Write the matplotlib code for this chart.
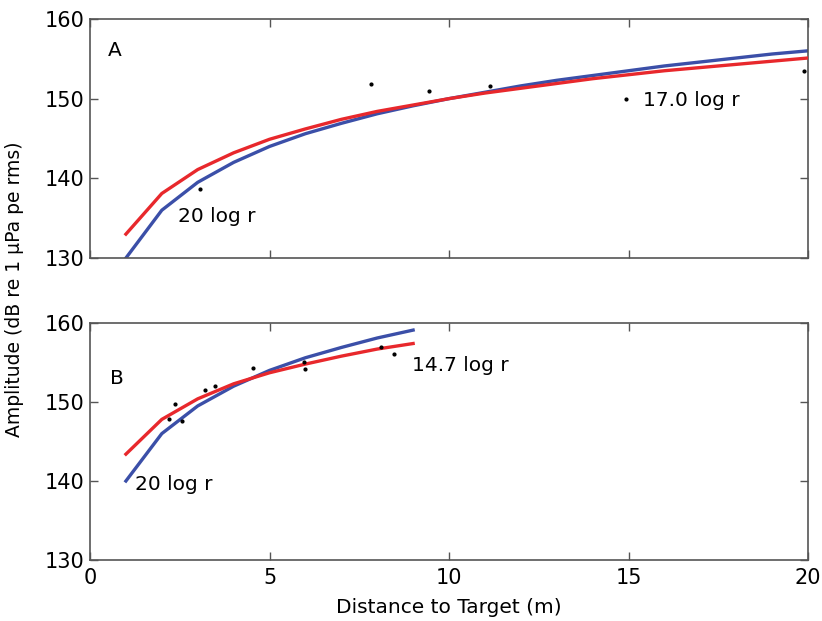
import matplotlib
matplotlib.use("Agg")
import matplotlib.pyplot as plt

# ---- data ----
r_a = list(range(1, 21))
blue_a = [130.0, 136.0, 139.5, 142.0, 144.0, 145.6, 146.9, 148.1, 149.1, 150.0,
          150.8, 151.6, 152.3, 152.9, 153.5, 154.1, 154.6, 155.1, 155.6, 156.0]
red_a = [133.0, 138.1, 141.1, 143.2, 144.9, 146.2, 147.4, 148.4, 149.2, 150.0,
         150.7, 151.3, 151.9, 152.5, 153.0, 153.5, 153.9, 154.3, 154.7, 155.1]
pts_a_x = [3.06, 7.82, 9.45, 11.15, 14.94, 19.9]
pts_a_y = [138.6, 151.8, 151.0, 151.6, 150.0, 153.5]

r_b = list(range(1, 10))
blue_b = [140.0, 146.0, 149.5, 152.0, 154.0, 155.6, 156.9, 158.1, 159.1]
red_b = [143.4, 147.8, 150.4, 152.3, 153.7, 154.8, 155.8, 156.7, 157.4]
pts_b_x = [2.19, 2.36, 2.55, 3.19, 3.49, 4.55, 5.95, 6.0, 8.1, 8.48]
pts_b_y = [147.85, 149.8, 147.6, 151.5, 152.0, 154.3, 155.1, 154.2, 157.0, 156.1]

xticks = [0, 5, 10, 15, 20]
yticks = [130, 140, 150, 160]

BLUE = "#3b4fa8"
RED = "#e8282c"
SPINE = "#555555"

fig = plt.figure(figsize=(8.22, 6.21), dpi=100)
ax_a = fig.add_axes([0.1095, 0.5845, 0.8735, 0.385])
ax_b = fig.add_axes([0.1095, 0.0982, 0.8735, 0.3817])

def style(ax, show_x):
    ax.set_xlim(0, 20)
    ax.set_ylim(130, 160)
    ax.set_xticks(xticks)
    ax.set_yticks(yticks)
    ax.tick_params(direction="in", length=6, width=1, top=True, right=True,
                   labelsize=15, color=SPINE, pad=4)
    ax.tick_params(axis="x", pad=6)
    if not show_x:
        ax.set_xticklabels([])
    for s in ax.spines.values():
        s.set_color(SPINE)
        s.set_linewidth(1.2)

# Panel A
ax_a.plot(r_a, red_a, color=RED, lw=2.4, zorder=3)
ax_a.plot(r_a, blue_a, color=BLUE, lw=2.4, zorder=2)
ax_a.plot(pts_a_x, pts_a_y, ls="none", marker="o", ms=2, color="black", zorder=4)
ax_a.text(0.5, 156.0, "A", fontsize=14.5, va="center", ha="left")
ax_a.text(2.45, 135.2, "20 log r", fontsize=14.5, va="center", ha="left")
ax_a.text(15.4, 149.8, "17.0 log r", fontsize=14.5, va="center", ha="left")
style(ax_a, False)

# Panel B
ax_b.plot(r_b, red_b, color=RED, lw=2.4, zorder=3)
ax_b.plot(r_b, blue_b, color=BLUE, lw=2.4, zorder=2)
ax_b.plot(pts_b_x, pts_b_y, ls="none", marker="o", ms=2, color="black", zorder=4)
ax_b.text(0.55, 153.0, "B", fontsize=14.5, va="center", ha="left")
ax_b.text(1.25, 139.6, "20 log r", fontsize=14.5, va="center", ha="left")
ax_b.text(8.97, 154.6, "14.7 log r", fontsize=14.5, va="center", ha="left")
style(ax_b, True)
ax_b.set_xlabel("Distance to Target (m)", fontsize=14.5, labelpad=7)

fig.text(0.018, 0.535, "Amplitude (dB re 1 µPa pe rms)", rotation=90,
         fontsize=13.5, va="center", ha="center")

fig.savefig("out.png", dpi=100)
